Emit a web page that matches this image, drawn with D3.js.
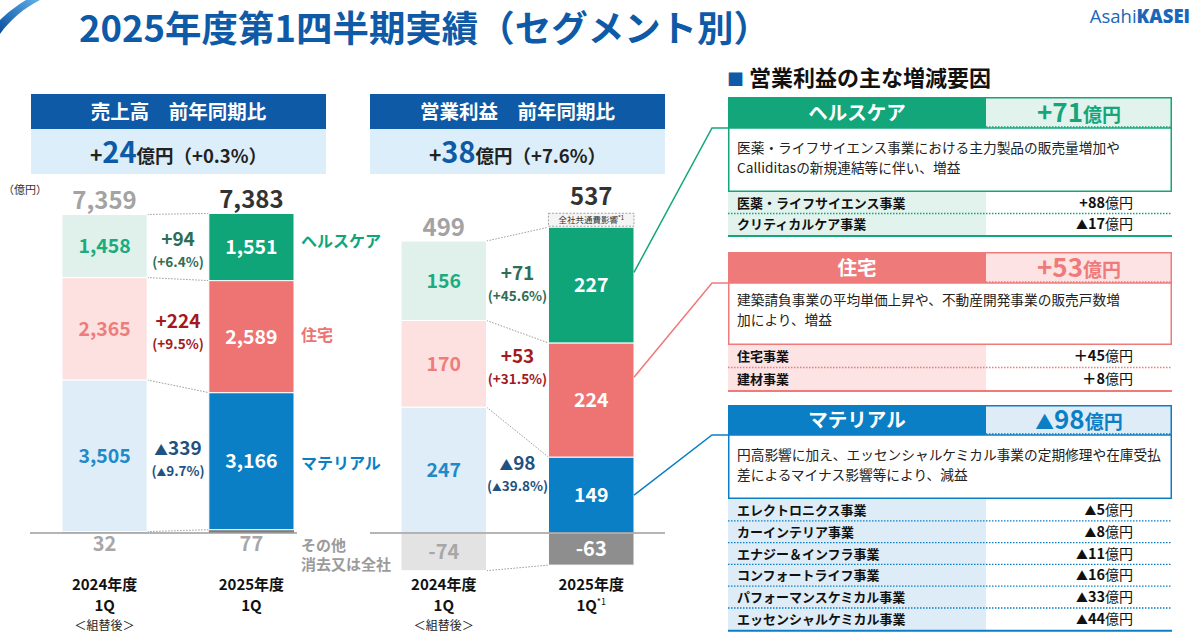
<!DOCTYPE html>
<html><head><meta charset="utf-8">
<script src="https://cdn.jsdelivr.net/npm/d3@7/dist/d3.min.js"></script>
<style>
html,body{margin:0;padding:0;background:#fff;}
svg{display:block;font-family:'Noto Sans CJK JP','Noto Sans',sans-serif;}
</style></head>
<body>
<script>
// ---------------- DATA ----------------
const title = "2025年度第1四半期実績（セグメント別）";
const segments = ["ヘルスケア", "住宅", "マテリアル"];
const periods = ["2024", "2025"];
const periodLine1 = ["2024年度", "2025年度"];
const periodLine2 = ["1Q", "1Q"];
const periodLine3 = ["＜組替後＞", ""];
const otherLabel = ["その他", "消去又は全社"];

// 売上高
const salesPrev = [1458, 2365, 3505];
const salesPrevOther = 32;
const salesCur = [1551, 2589, 3166];
const salesCurOther = 77;
const salesTotals = [7359, 7383];
const salesDiff = ["+94", "+224", "▲339"];
const salesPct = ["(+6.4%)", "(+9.5%)", "(▲9.7%)"];
const salesHeader = "売上高　前年同期比";
const salesChange = ["+", "24", "億円（+0.3%）"];

// 営業利益
const profitPrev = [156, 170, 247];
const profitPrevOther = -74;
const profitCur = [227, 224, 149];
const profitCurOther = -63;
const profitTotals = [499, 537];
const profitDiff = ["+71", "+53", "▲98"];
const profitPct = ["(+45.6%)", "(+31.5%)", "(▲39.8%)"];
const profitHeader = "営業利益　前年同期比";
const profitChange = ["+", "38", "億円（+7.6%）"];
const commonCostNote = "全社共通費影響";

// 増減要因
const factorHeading = "営業利益の主な増減要因";
const factorAmounts = ["+71", "+53", "▲98"];
const factorTexts = [
  ["医薬・ライフサイエンス事業における主力製品の販売量増加や", "Calliditasの新規連結等に伴い、増益"],
  ["建築請負事業の平均単価上昇や、不動産開発事業の販売戸数増", "加により、増益"],
  ["円高影響に加え、エッセンシャルケミカル事業の定期修理や在庫受払", "差によるマイナス影響等により、減益"]
];
const factorRowNames = [
  ["医薬・ライフサイエンス事業", "クリティカルケア事業"],
  ["住宅事業", "建材事業"],
  ["エレクトロニクス事業", "カーインテリア事業", "エナジー＆インフラ事業", "コンフォートライフ事業", "パフォーマンスケミカル事業", "エッセンシャルケミカル事業"]
];
const factorRowValues = [
  ["+88", "▲17"],
  ["＋45", "＋8"],
  ["▲5", "▲8", "▲11", "▲16", "▲33", "▲44"]
];

// ---------------- STYLE ----------------
const segDark = ["#0fa579", "#ee7373", "#0a7fc6"];
const segLight = ["#dff1ea", "#fde1e1", "#deedf8"];
const segPrevText = ["#1bab7e", "#f07b7b", "#1f89c9"];
const segDiffText = ["#2f6d55", "#a3191e", "#1f5281"];
const segPanelHead = ["#14a67b", "#ef7a7a", "#0b7fc6"];
const segPanelLight = ["#e1f3ec", "#fde3e3", "#ddecf7"];
const navy = "#0e5aa7";
const fmt = v => d3.format(",")(v).replace("−", "-");

// write text that may contain ▲, shrinking the triangle
function addTri(sel, str, size, k = 0.72) {
  const i = str.indexOf("▲");
  if (i < 0) { sel.append("tspan").text(str).attr("font-size", size); return; }
  if (i > 0) sel.append("tspan").text(str.slice(0, i)).attr("font-size", size);
  sel.append("tspan").text("▲").attr("font-size", size * k);
  sel.append("tspan").text(str.slice(i + 1)).attr("font-size", size);
}

const W = 1200, H = 636;
const svg = d3.select("body").append("svg").attr("width", W).attr("height", H);
svg.append("rect").attr("width", W).attr("height", H).attr("fill", "#fff");

// corner swoosh
const grad = svg.append("defs").append("linearGradient").attr("id", "sw").attr("x1", 0).attr("y1", 1).attr("x2", 1).attr("y2", 0);
grad.append("stop").attr("offset", "0%").attr("stop-color", "#0a4fa0");
grad.append("stop").attr("offset", "100%").attr("stop-color", "#5fb0e8");
svg.append("path").attr("d", "M0,34 C10,20 24,8 40,0 L26,0 C16,6 6,14 0,20 Z").attr("fill", "url(#sw)");

// title
svg.append("text").attr("x", 79).attr("y", 42).text(title)
  .attr("font-size", 36).attr("font-weight", 700).attr("fill", navy)
  .attr("textLength", 691).attr("lengthAdjust", "spacingAndGlyphs");

// logo
const logo = svg.append("text").attr("x", 1190).attr("y", 23).attr("text-anchor", "end")
  .attr("font-family", "'Open Sans',Lato,sans-serif").attr("font-size", 18.5).attr("fill", "#1a66b8");
logo.append("tspan").text("Asahi").attr("font-weight", 400);
logo.append("tspan").text("KASEI").attr("font-weight", 800);

// ---------------- CHARTS ----------------
const baseY = 533;
function buildStack(vals, other) {
  const segs = [];
  let base = 0;
  if (other >= 0) { segs.push({ key: "other", i: -1, y0: 0, y1: other }); base = other; }
  else segs.push({ key: "other", i: -1, y0: other, y1: 0 });
  [2, 1, 0].forEach(i => { segs.push({ key: "s" + i, i: i, y0: base, y1: base + vals[i] }); base += vals[i]; });
  return segs;
}
function boundaries(segs) {
  const b = [segs[0].y0];
  segs.forEach(s => b.push(s.y1));
  return b.sort((a, c) => a - c);
}

function drawChart(cfg) {
  const g = svg.append("g");
  const x = d3.scaleBand().domain(periods).range(cfg.xRange).paddingInner(0.42).paddingOuter(0);
  const y = cfg.y;
  const bw = x.bandwidth();

  // header
  g.append("rect").attr("x", cfg.hx0).attr("y", 94).attr("width", cfg.hx1 - cfg.hx0).attr("height", 35).attr("fill", navy);
  g.append("rect").attr("x", cfg.hx0).attr("y", 129).attr("width", cfg.hx1 - cfg.hx0).attr("height", 45).attr("fill", "#dbeef9");
  const hc = (cfg.hx0 + cfg.hx1) / 2;
  g.append("text").attr("x", hc).attr("y", 119).attr("text-anchor", "middle").text(cfg.header)
    .attr("font-size", 19.5).attr("font-weight", 700).attr("fill", "#fff");
  const ch = g.append("text").attr("x", hc).attr("y", 163).attr("text-anchor", "middle").attr("font-weight", 700);
  ch.append("tspan").text(cfg.change[0]).attr("font-size", 21).attr("fill", "#222");
  ch.append("tspan").text(cfg.change[1]).attr("font-size", 29).attr("fill", navy);
  ch.append("tspan").text(cfg.change[2]).attr("font-size", 18.5).attr("fill", "#222");

  const stacks = [buildStack(cfg.prev, cfg.prevOther), buildStack(cfg.cur, cfg.curOther)];

  // connectors (dotted)
  const bPrev = boundaries(stacks[0]), bCur = boundaries(stacks[1]);
  bPrev.forEach((v, k) => {
    if (v === 0 && bCur[k] === 0) return;
    g.append("line").attr("x1", x(periods[0]) + bw).attr("y1", y(v)).attr("x2", x(periods[1])).attr("y2", y(bCur[k]))
      .attr("stroke", "#9a9a9a").attr("stroke-width", 1).attr("stroke-dasharray", "1.5,1.5");
  });

  // bars
  stacks.forEach((segs, p) => {
    segs.forEach(s => {
      let fill;
      if (s.i < 0) fill = p === 0 ? cfg.otherLight : cfg.otherDark;
      else fill = p === 0 ? segLight[s.i] : segDark[s.i];
      g.append("rect").attr("x", x(periods[p])).attr("y", y(s.y1)).attr("width", bw)
        .attr("height", Math.max(0, y(s.y0) - y(s.y1))).attr("fill", fill)
        .attr("stroke", "#fff").attr("stroke-width", s.i < 0 && cfg.name === "sales" ? 0 : 1);
      const vals = p === 0 ? cfg.prev : cfg.cur;
      const cx = x(periods[p]) + bw / 2;
      if (s.i >= 0) {
        g.append("text").attr("x", cx).attr("y", (y(s.y0) + y(s.y1)) / 2 + 7).attr("text-anchor", "middle")
          .text(fmt(vals[s.i])).attr("font-size", 19.5).attr("font-weight", 700)
          .attr("fill", p === 0 ? segPrevText[s.i] : "#fff");
      } else {
        const ov = p === 0 ? cfg.prevOther : cfg.curOther;
        if (cfg.otherInside) {
          g.append("text").attr("x", cx).attr("y", (y(s.y0) + y(s.y1)) / 2 + 7).attr("text-anchor", "middle")
            .text(fmt(ov)).attr("font-size", 20).attr("font-weight", 700)
            .attr("fill", p === 0 ? "#a7a7a7" : "#fff");
        } else {
          g.append("text").attr("x", cx).attr("y", baseY + 18).attr("text-anchor", "middle")
            .text(fmt(ov)).attr("font-size", 20).attr("font-weight", 700).attr("fill", "#a7a7a7");
        }
      }
    });
  });

  // baseline
  g.append("line").attr("x1", cfg.baseX[0]).attr("x2", cfg.baseX[1]).attr("y1", baseY).attr("y2", baseY)
    .attr("stroke", "#9d9d9d").attr("stroke-width", 1.5);

  // totals
  const topPrev = d3.max(bPrev), topCur = d3.max(bCur);
  g.append("text").attr("x", x(periods[0]) + bw / 2).attr("y", y(topPrev) - 5).attr("text-anchor", "middle")
    .text(fmt(cfg.totals[0])).attr("font-size", 24).attr("font-weight", 700).attr("fill", "#a3a3a3");
  const curOffset = cfg.noteBox ? 17 : 0;
  g.append("text").attr("x", x(periods[1]) + bw / 2).attr("y", y(topCur) - 5 - curOffset).attr("text-anchor", "middle")
    .text(fmt(cfg.totals[1])).attr("font-size", 24).attr("font-weight", 700).attr("fill", "#333");
  if (cfg.noteBox) {
    g.append("rect").attr("x", x(periods[1])).attr("y", y(topCur) - 14).attr("width", bw).attr("height", 13)
      .attr("fill", "#f4f4f4").attr("stroke", "#8a8a8a").attr("stroke-width", 0.8).attr("stroke-dasharray", "2,1.5");
    const nt = g.append("text").attr("x", x(periods[1]) + bw / 2).attr("y", y(topCur) - 4).attr("text-anchor", "middle")
      .attr("font-size", 8.5).attr("fill", "#333");
    nt.append("tspan").text(cfg.noteBox);
    nt.append("tspan").text("*1").attr("font-size", 6).attr("dy", -3);
  }

  // diff labels between bars
  const mx = (x(periods[0]) + bw + x(periods[1])) / 2;
  [0, 1, 2].forEach(i => {
    const s = stacks[0].find(d => d.i === i);
    const my = (y(s.y0) + y(s.y1)) / 2;
    const t1 = g.append("text").attr("x", mx).attr("y", my - 0.5).attr("text-anchor", "middle")
      .attr("font-weight", 700).attr("fill", segDiffText[i]);
    addTri(t1, cfg.diff[i], 19);
    const t2 = g.append("text").attr("x", mx).attr("y", my + 20.5).attr("text-anchor", "middle")
      .attr("font-weight", 700).attr("fill", segDiffText[i]);
    addTri(t2, cfg.pct[i], 13.5);
  });

  // period labels
  periods.forEach((p, k) => {
    const cx = x(p) + bw / 2;
    g.append("text").attr("x", cx).attr("y", 590).attr("text-anchor", "middle").text(periodLine1[k])
      .attr("font-size", 15).attr("font-weight", 700).attr("fill", "#111");
    const l2 = g.append("text").attr("x", cx).attr("y", 611).attr("text-anchor", "middle")
      .attr("font-size", 15).attr("font-weight", 700).attr("fill", "#111");
    l2.append("tspan").text(periodLine2[k]);
    if (cfg.noteBox && k === 1) l2.append("tspan").text("*1").attr("font-size", 9).attr("font-weight", 400).attr("dy", -6);
    if (periodLine3[k]) g.append("text").attr("x", cx).attr("y", 630).attr("text-anchor", "middle").text(periodLine3[k])
      .attr("font-size", 12).attr("fill", "#222");
  });

  return { x, y, stacks, bw };
}

const ySales = d3.scaleLinear().domain([0, 8000]).range([baseY, baseY - 8000 * 0.04328]);
const yProfit = d3.scaleLinear().domain([0, 600]).range([baseY, baseY - 600 * 0.5096]);

const sales = drawChart({
  name: "sales", xRange: [62, 294], y: ySales, hx0: 31, hx1: 326, header: salesHeader, change: salesChange,
  prev: salesPrev, prevOther: salesPrevOther, cur: salesCur, curOther: salesCurOther,
  totals: salesTotals, diff: salesDiff, pct: salesPct, baseX: [30, 297],
  otherLight: "#d8d8d8", otherDark: "#7f7f7f", otherInside: false
});
const profit = drawChart({
  name: "profit", xRange: [401, 634], y: yProfit, hx0: 370, hx1: 665, header: profitHeader, change: profitChange,
  prev: profitPrev, prevOther: profitPrevOther, cur: profitCur, curOther: profitCurOther,
  totals: profitTotals, diff: profitDiff, pct: profitPct, baseX: [370, 665],
  otherLight: "#e3e3e3", otherDark: "#8e8e8e", otherInside: true, noteBox: commonCostNote
});

// unit
svg.append("text").attr("x", 3).attr("y", 194).text("（億円）").attr("font-size", 11).attr("fill", "#333");

// segment labels right of sales 2025 bar
[0, 1, 2].forEach(i => {
  const s = sales.stacks[1].find(d => d.i === i);
  const my = (sales.y(s.y0) + sales.y(s.y1)) / 2;
  const dy = [-6, -2, 2][i];
  svg.append("text").attr("x", 301).attr("y", my + dy + 6).text(segments[i])
    .attr("font-size", 16).attr("font-weight", 700).attr("fill", segDark[i]);
});
otherLabel.forEach((t, k) => svg.append("text").attr("x", 301).attr("y", 551 + k * 19).text(t)
  .attr("font-size", 15).attr("font-weight", 700).attr("fill", "#9b9b9b"));

// ---------------- FACTOR PANELS ----------------
const hd = svg.append("text").attr("x", 727).attr("y", 86).attr("font-size", 22).attr("font-weight", 700).attr("fill", "#111");
hd.append("tspan").text("■").attr("fill", navy).attr("font-size", 17);
hd.append("tspan").text(" " + factorHeading);

const px0 = 728, pmid = 986, px1 = 1172;
const panelTops = [97, 252, 405];
const headH = [31, 31, 30];
const bodyH = [64, 62, 64];
const rowH = [21.5, 22.5, 21.8];
const bodyLineOff = [25, 22, 25];
// anchor fraction of the 2025 profit segment for connector lines
const anchorFrac = [0.61, 0.70, 0.5];

segments.forEach((seg, i) => {
  const g = svg.append("g");
  const t = panelTops[i], hb = t + headH[i], bb = hb + bodyH[i];
  const col = segPanelHead[i];
  // header
  g.append("rect").attr("x", px0).attr("y", t).attr("width", pmid - px0).attr("height", headH[i]).attr("fill", col);
  g.append("rect").attr("x", pmid).attr("y", t).attr("width", px1 - pmid).attr("height", headH[i]).attr("fill", segPanelLight[i]);
  g.append("path").attr("d", `M${pmid},${t + 0.75}H${px1 - 0.75}V${hb}`).attr("fill", "none").attr("stroke", col).attr("stroke-width", 1.5);
  g.append("line").attr("x1", pmid).attr("x2", px1).attr("y1", hb - 1).attr("y2", hb - 1)
    .attr("stroke", col).attr("stroke-width", 1.3).attr("stroke-dasharray", "1.5,1.5");
  g.append("text").attr("x", (px0 + pmid) / 2).attr("y", t + headH[i] / 2 + 7).attr("text-anchor", "middle").text(seg)
    .attr("font-size", 19.5).attr("font-weight", 700).attr("fill", "#fff");
  const at = g.append("text").attr("x", (pmid + px1) / 2).attr("y", t + headH[i] / 2 + 9).attr("text-anchor", "middle")
    .attr("font-weight", 700).attr("fill", col);
  addTri(at, factorAmounts[i], 26);
  at.append("tspan").text("億円").attr("font-size", 19);
  // body
  g.append("rect").attr("x", px0 + 0.75).attr("y", hb).attr("width", px1 - px0 - 1.5).attr("height", bodyH[i] - 0.75)
    .attr("fill", "#fff").attr("stroke", col).attr("stroke-width", 1.5);
  g.append("line").attr("x1", px0 + 0.75).attr("x2", px0 + 0.75).attr("y1", t).attr("y2", hb).attr("stroke", col).attr("stroke-width", 1.5);
  factorTexts[i].forEach((line, k) => g.append("text").attr("x", 737).attr("y", hb + bodyLineOff[i] + k * 20).text(line)
    .attr("font-size", 13.7).attr("fill", "#222"));
  // rows
  const rows = factorRowNames[i];
  const rTop = bb;
  g.append("rect").attr("x", px0).attr("y", rTop).attr("width", pmid - px0).attr("height", rows.length * rowH[i]).attr("fill", segPanelLight[i]);
  rows.forEach((name, k) => {
    const ry = rTop + k * rowH[i];
    g.append("text").attr("x", 737).attr("y", ry + rowH[i] / 2 + 5).text(name)
      .attr("font-size", 13).attr("font-weight", 700).attr("fill", "#111");
    const vt = g.append("text").attr("x", 1133).attr("y", ry + rowH[i] / 2 + 5).attr("text-anchor", "end").attr("fill", "#111")
      .attr("font-weight", 700);
    addTri(vt, factorRowValues[i][k], 14.5, 0.82);
    vt.append("tspan").text("億円").attr("font-size", 14).attr("font-weight", 400);
    if (k < rows.length - 1)
      g.append("line").attr("x1", px0).attr("x2", px1).attr("y1", ry + rowH[i]).attr("y2", ry + rowH[i])
        .attr("stroke", col).attr("stroke-width", 1.3).attr("stroke-dasharray", "1.5,1.5");
  });
  const bottom = rTop + rows.length * rowH[i];
  g.append("line").attr("x1", px0).attr("x2", px1).attr("y1", bottom + 1).attr("y2", bottom + 1)
    .attr("stroke", col).attr("stroke-width", 2);

  // connector from profit 2025 segment to panel
  const s = profit.stacks[1].find(d => d.i === i);
  const ay = profit.y(s.y0 + anchorFrac[i] * (s.y1 - s.y0));
  const ax = profit.x(periods[1]) + profit.bw;
  svg.append("polyline").attr("points", `${ax},${ay} 712,${hb} ${px0},${hb}`)
    .attr("fill", "none").attr("stroke", col).attr("stroke-width", 1.5);
});
</script>
</body></html>
